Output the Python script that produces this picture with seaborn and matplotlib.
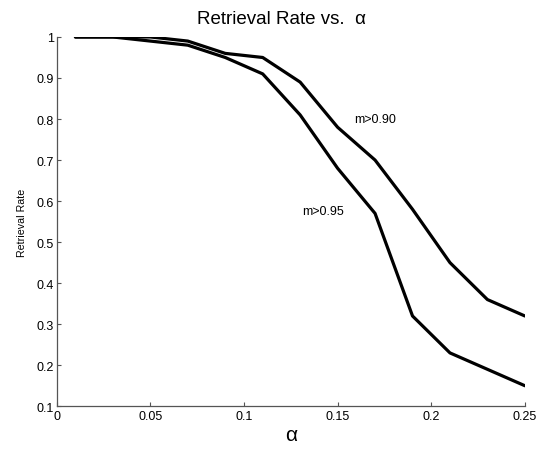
import pandas as pd
import matplotlib.pyplot as plt
import seaborn as sns

# Data
alpha = [0.01, 0.03, 0.05, 0.07, 0.09, 0.11, 0.13, 0.15, 0.17, 0.19, 0.21, 0.23, 0.25]
rate_m90 = [1.0, 1.0, 1.0, 0.99, 0.96, 0.95, 0.89, 0.78, 0.70, 0.58, 0.45, 0.36, 0.32]
rate_m95 = [1.0, 1.0, 0.99, 0.98, 0.95, 0.91, 0.81, 0.68, 0.57, 0.32, 0.23, 0.19, 0.15]
series_labels = ["m>0.90", "m>0.95"]
x_ticks = [0, 0.05, 0.1, 0.15, 0.2, 0.25]
y_ticks = [0.1, 0.2, 0.3, 0.4, 0.5, 0.6, 0.7, 0.8, 0.9, 1.0]

df = pd.DataFrame({
    "alpha": alpha * 2,
    "rate": rate_m90 + rate_m95,
    "series": [series_labels[0]] * len(alpha) + [series_labels[1]] * len(alpha),
})

sns.set_style("ticks")
plt.rcParams["font.family"] = ["Liberation Sans", "DejaVu Sans"]
plt.rcParams["xtick.direction"] = "in"
plt.rcParams["ytick.direction"] = "in"
plt.rcParams["text.color"] = "black"
plt.rcParams["axes.labelcolor"] = "black"

fig = plt.figure(figsize=(5.4, 4.52), dpi=100)
ax = fig.add_axes([0.105, 0.099, 0.867, 0.817])

sns.lineplot(data=df, x="alpha", y="rate", units="series", estimator=None,
             color="black", linewidth=2.3, ax=ax, legend=False)

ax.text(0.159, 0.80, series_labels[0], fontsize=9, va="center", ha="left")
ax.text(0.131, 0.577, series_labels[1], fontsize=9, va="center", ha="left")

ax.set_xlim(0, 0.25)
ax.set_ylim(0.1, 1.0)
ax.set_xticks(x_ticks)
ax.set_xticklabels(["0", "0.05", "0.1", "0.15", "0.2", "0.25"], fontsize=9)
ax.set_yticks(y_ticks)
ax.set_yticklabels(["0.1", "0.2", "0.3", "0.4", "0.5", "0.6", "0.7", "0.8", "0.9", "1"], fontsize=9)
ax.tick_params(length=3, width=0.8, color="#555555", labelcolor="black", pad=2)
ax.tick_params(axis="x", pad=3)
ax.set_xlabel("α", fontsize=15, labelpad=2)
ax.set_ylabel("Retrieval Rate", fontsize=7.7, labelpad=7)
ax.set_title("Retrieval Rate vs.  α", fontsize=13.5, pad=10, x=0.48, color="black")
sns.despine(ax=ax)
for s in ["left", "bottom"]:
    ax.spines[s].set_color("#555555")
    ax.spines[s].set_linewidth(0.9)

fig.savefig("out.png", dpi=100)
